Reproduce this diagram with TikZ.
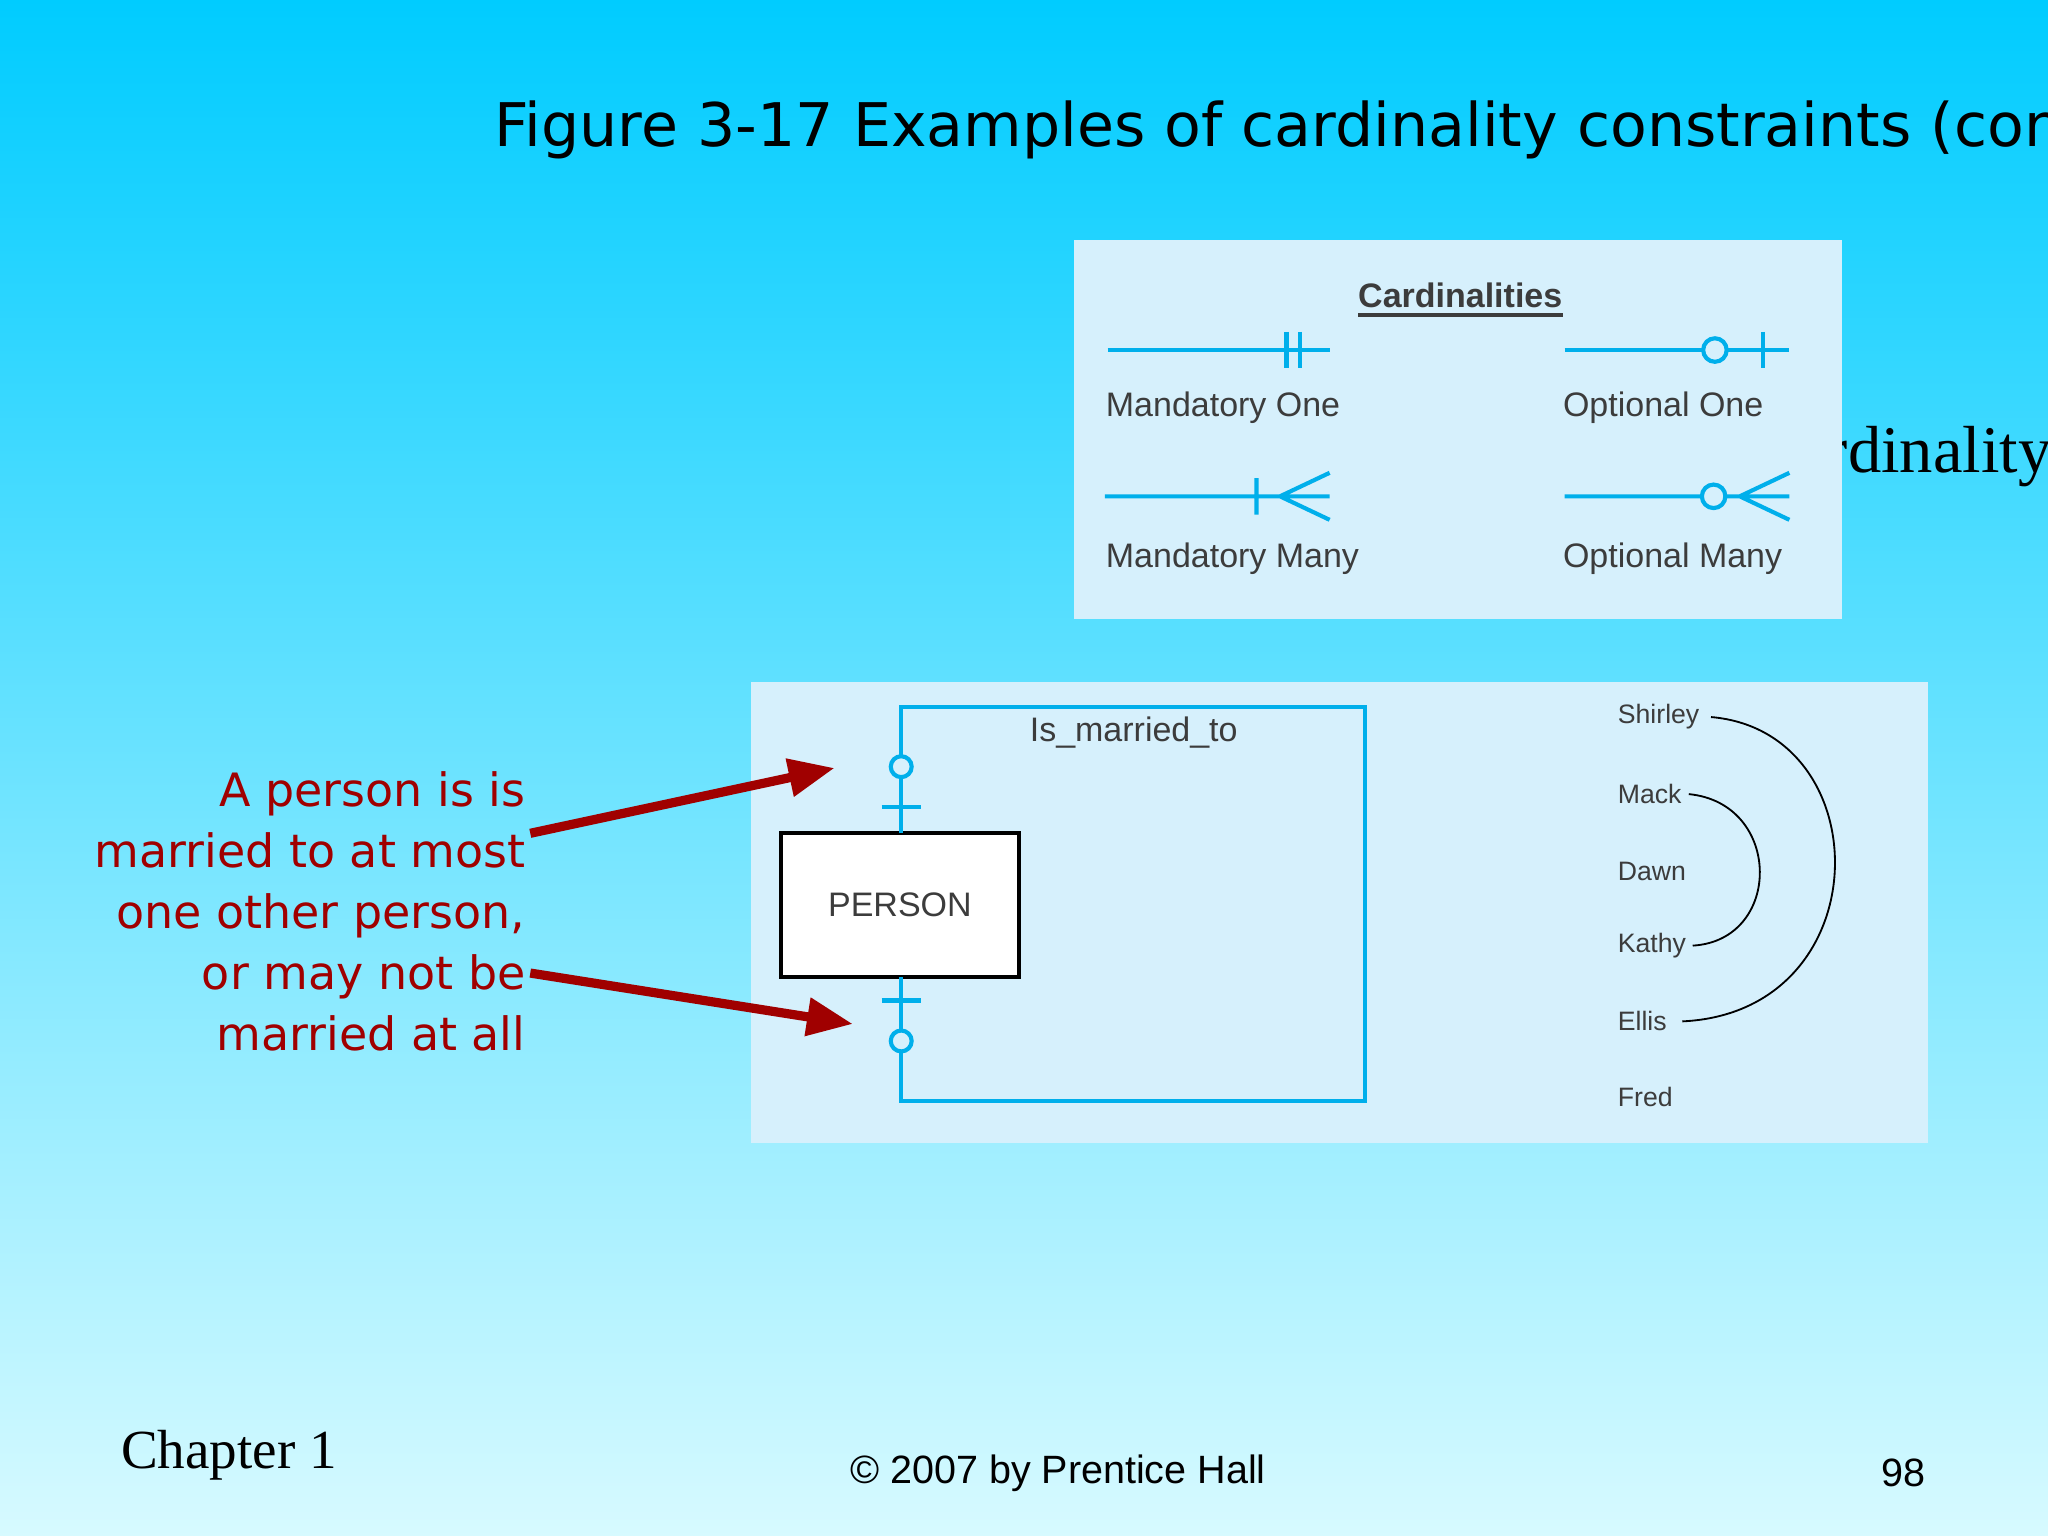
\documentclass[tikz,border=0pt]{standalone}
\usepackage{fontspec}
\setmainfont{Liberation Sans}
\newfontfamily\dvs{DejaVu Sans}
\newfontfamily\lserif{Liberation Serif}
\usetikzlibrary{arrows.meta}
\definecolor{cy}{RGB}{0,175,235}
\definecolor{pane}{RGB}{214,240,252}
\definecolor{gt}{RGB}{60,60,60}
\definecolor{dred}{RGB}{160,0,0}
\begin{document}
\begin{tikzpicture}[x=0.01cm,y=-0.01cm,
  sym/.style={cy,line width=0.9pt},
  lg/.style={text=gt,font=\fontsize{7.4}{9}\selectfont,inner sep=0pt},
  nm/.style={text=gt,font=\fontsize{5.8}{7}\selectfont,inner sep=0pt,anchor=west},
  rt/.style={text=dred,font=\dvs\fontsize{10}{13.3}\selectfont,align=right,inner sep=0pt},
  rarr/.style={dred,line width=2pt,-{Triangle[length=10pt,width=8pt]}}]
\useasboundingbox (0,0) rectangle (1568,1176);
\shade[top color={rgb,255:red,0;green,204;blue,255},bottom color={rgb,255:red,215;green,250;blue,255}] (0,0) rectangle (1568,1176);
\begin{scope}
\clip (0,0) rectangle (1568,1176);
\node[anchor=base west,inner sep=0pt,font=\dvs\fontsize{13.1}{16}\selectfont] (title) at (378,112) {Figure 3-17 Examples of cardinality constraints (cont.)};
\node[anchor=base west,inner sep=0pt,font=\lserif\fontsize{14.5}{17}\selectfont] (bg) at (1352,362) {cardinality};
\end{scope}
% legend
\fill[pane] (822,184) rectangle (1410,474);
\node[lg,font=\bfseries\fontsize{7.4}{9}\selectfont] (ct) at (1118,226) {Cardinalities};
\draw[gt,line width=0.8pt] (1040,241) -- (1197,241);
\draw[sym] (848,268) -- (1018,268) (985,254) -- (985,282) (995,254) -- (995,282);
\node[lg,anchor=west] (mo) at (846,312) {Mandatory One};
\draw[sym] (1198,268) -- (1370,268) (1350,254) -- (1350,282);
\draw[sym,fill=pane] (1313,268) circle (9);
\node[lg,anchor=west] (oo) at (1196,312) {Optional One};
\draw[sym] (846,380) -- (1018,380) (962,366) -- (962,394) (1018,362) -- (980,380) -- (1018,398);
\node[lg,anchor=west] (mm) at (846,428) {Mandatory Many};
\draw[sym] (1198,380) -- (1370,380) (1370,362) -- (1332,380) -- (1370,398);
\draw[sym,fill=pane] (1312,380) circle (9);
\node[lg,anchor=west] (om) at (1196,428) {Optional Many};
% example
\fill[pane] (575,522) rectangle (1476,875);
\draw[black,line width=0.8pt,fill=white] (598,638) rectangle (780,748);
\node[lg] (pt) at (689,693) {PERSON};
\coordinate (t0) at (690,638);
\coordinate (b0) at (690,748);
\draw[sym] (t0) -- (690,541) -- (1045,541) -- (1045,843) -- (690,843) -- (b0);
\draw[sym] (675,618) -- (705,618) (675,766) -- (705,766);
\draw[sym,fill=pane] (690,587) circle (8) (690,797) circle (8);
\node[lg] (rel) at (868,561) {Is\_married\_to};
\node[nm] (s) at (1238,549) {Shirley};
\node[nm] (m) at (1238,608) {Mack};
\node[nm] (d) at (1238,667) {Dawn};
\node[nm] (k) at (1238,724) {Kathy};
\node[nm] (e) at (1238,782) {Ellis};
\node[nm] (f) at (1238,840) {Fred};
\draw[black,line width=0.4pt] (1310,549) .. controls (1440,560) and (1440,775) .. (1288,782);
\draw[black,line width=0.4pt] (1293,608) .. controls (1365,615) and (1365,720) .. (1296,724);
% annotation
\node[rt,anchor=north east] (ann) at (403,590) {A person is is\\married to at most\\one other person,\\or may not be\\married at all};
\coordinate (a1) at (639,588);
\coordinate (a2) at (653,784);
\draw[rarr] (406,638) -- (a1);
\draw[rarr] (406,745) -- (a2);
% footer
\node[anchor=base west,inner sep=0pt,font=\lserif\fontsize{12}{14}\selectfont] (ch) at (92,1124) {Chapter 1};
\node[anchor=base,inner sep=0pt,font=\fontsize{8.6}{10}\selectfont] (cp) at (810,1136) {© 2007 by Prentice Hall};
\node[anchor=base,inner sep=0pt,font=\fontsize{8.6}{10}\selectfont] (pg) at (1457,1138) {98};
\end{tikzpicture}
\end{document}
